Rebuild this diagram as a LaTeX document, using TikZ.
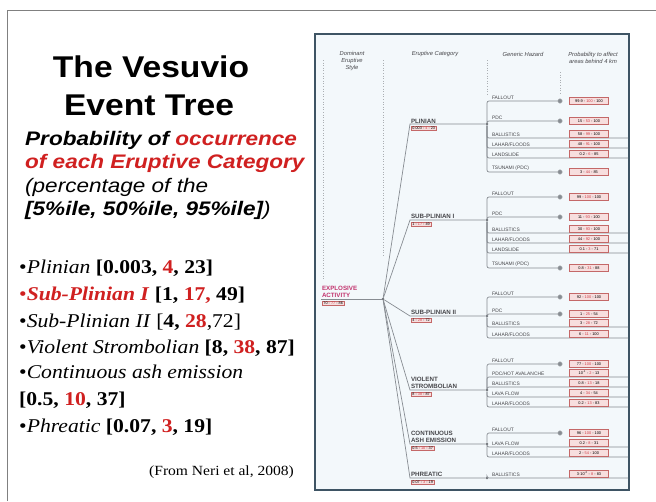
\documentclass[tikz,border=0pt]{standalone}
\usepackage{fontspec}
\setmainfont{Liberation Serif}
\newfontfamily\arialf{Liberation Sans}
\newfontfamily\arialw{Liberation Sans}[FakeStretch=1.12]
\newfontfamily\arialx{Liberation Sans}[FakeStretch=1.15]
\newfontfamily\timesw{Liberation Serif}[FakeStretch=1.11]
\usepackage{tikz}
\usetikzlibrary{positioning}
\definecolor{leftred}{RGB}{208,32,32}
\definecolor{midred}{RGB}{205,60,70}
\definecolor{rootpink}{RGB}{194,52,110}
\definecolor{panelbg}{RGB}{243,248,251}
\definecolor{panelrim}{RGB}{62,84,100}
\definecolor{treegray}{RGB}{135,140,146}
\definecolor{txtgray}{RGB}{70,70,74}
\definecolor{boxrim}{RGB}{196,104,104}
\definecolor{boxfill}{RGB}{247,222,222}
\newcommand{\fsz}[1]{\fontsize{#1}{1.15\dimexpr#1pt\relax}\selectfont}
\newcommand{\vals}[3]{#1 - \textcolor{midred}{#2} - #3}
% hazard ending in a dot
\newcommand{\hzdot}[7]{%
	\coordinate (#2) at (491,#4);
	\node[hazlbl] (#2t) at (#2) {#3};
	\node[endpt] (#2e) at (560,#4) {};
	\draw[branch, rounded corners=2pt] (#1) |- (#2) -- (#2e);
	\node[valbox] (#2v) at (589,#4) {\vals{#5}{#6}{#7}};
}
% hazard ending at the rim
\newcommand{\hzrule}[7]{%
	\coordinate (#2) at (491,#4);
	\node[hazlbl] (#2t) at (#2) {#3};
	\coordinate (#2e) at (628,#4);
	\draw[branch, rounded corners=2pt] (#1) |- (#2) -- (#2e);
	\node[valbox] (#2v) at (589,#4-4.3) {\vals{#5}{#6}{#7}};
}

\begin{document}
\begin{tikzpicture}[x=1pt,y=-1pt,
	ttl/.style={anchor=base,inner sep=0pt,font=\arialw\bfseries\fsz{30}},
	sub/.style={anchor=base west,inner sep=0pt,font=\arialx\fsz{19.6}},
	bul/.style={anchor=base west,inner sep=0pt,font=\timesw\fsz{19.5}},
	branch/.style={draw=treegray,line width=0.7pt},
	guide/.style={draw=treegray!70,dotted,line width=0.6pt},
	head/.style={font=\arialf\itshape\fsz{5.8},text=txtgray,align=center,inner sep=0pt},
	catlbl/.style={anchor=south west,inner sep=0.8pt,font=\arialf\bfseries\fsz{6.2},text=txtgray,align=left},
	catval/.style={anchor=north west,draw=boxrim,fill=boxfill,line width=0.5pt,inner xsep=1.2pt,inner ysep=1pt,font=\arialf\fsz{3.8}},
	hazlbl/.style={anchor=south west,inner sep=0.8pt,font=\arialf\fsz{4.9},text=txtgray},
	valbox/.style={draw=boxrim,fill=boxfill,line width=0.5pt,minimum width=39pt,minimum height=6.6pt,inner sep=0.6pt,font=\arialf\fsz{3.9}},
	endpt/.style={circle,fill=treegray,draw=treegray!60,inner sep=0pt,minimum size=4.6pt},
	knot/.style={circle,fill=treegray!80!black,inner sep=0pt,minimum size=2.6pt}]
\useasboundingbox (0,0) rectangle (656,501);
\fill[white] (0,0) rectangle (656,501);
\draw[gray,line width=0.9pt] (7,501) -- (7,10) -- (656,10);

% left side
\node[ttl] (t1) at (151,77) {The Vesuvio};
\node[ttl] (t2) at (149,115) {Event Tree};
\node[sub] (s1) at (25,145) {\bfseries\itshape Probability of \textcolor{leftred}{occurrence}};
\node[sub] (s2) at (25,168) {\bfseries\itshape\color{leftred} of each Eruptive Category};
\node[sub] (s3) at (25,192) {\itshape (percentage of the};
\node[sub] (s4) at (25,215) {\bfseries\itshape [5\%ile, 50\%ile, 95\%ile]\mdseries)};
\node[bul] (b1) at (19,273) {•\textit{Plinian} \textbf{[0.003, \textcolor{leftred}{4}, 23]}};
\node[bul] (b2) at (19,300) {\textcolor{leftred}{•\textbf{\textit{Sub-Plinian I}}} \textbf{[1, \textcolor{leftred}{17,} 49]}};
\node[bul] (b3) at (19,327) {•\textit{Sub-Plinian II} [\textbf{4, \textcolor{leftred}{28}},72]};
\node[bul] (b4) at (19,353) {•\textit{Violent Strombolian} \textbf{[8, \textcolor{leftred}{38}, 87]}};
\node[bul] (b5) at (19,378) {•\textit{Continuous ash emission}};
\node[bul] (b6) at (19,405) {\textbf{[0.5, \textcolor{leftred}{10}, 37]}};
\node[bul] (b7) at (19,432) {•\textit{Phreatic} \textbf{[0.07, \textcolor{leftred}{3}, 19]}};
\node[anchor=base east,inner sep=0pt,font=\timesw\fsz{14}] (src) at (294,475) {(From Neri et al, 2008)};

% panel
\draw[fill=panelbg,draw=panelrim,line width=1.2pt] (315,34) rectangle (629,490);
\node[head] (hA) at (352,61) {Dominant\\Eruptive\\Style};
\node[head] (hB) at (435,54) {Eruptive Category};
\node[head] (hC) at (523,54) {Generic Hazard};
\node[head] (hD) at (593,58) {Probability to affect\\areas behind 4 km};
\draw[guide] (323,60) -- (323,280);
\draw[guide] (383,60) -- (383,256);
\draw[guide] (487,60) -- (487,94);
\draw[guide] (560,72) -- (560,94);

% root
\coordinate (ea) at (321,299);
\node[catlbl,text=rootpink] (eat) at (ea) {EXPLOSIVE\\ACTIVITY};
\node[catval] (eav) at (322,300.5) {\vals{70}{77}{86}};
\node[knot] (rt) at (383,299) {};
\draw[branch] (ea) -- (rt);

% eruptive categories
\foreach \nm/\yy/\lbl/\lo/\md/\hi in {
	P/124/PLINIAN/0.003/4/23,
	SA/220/SUB-PLINIAN I/1/17/49,
	SB/316/SUB-PLINIAN II/4/28/72,
	VS/390/{VIOLENT\\STROMBOLIAN}/8/38/87,
	CA/444/{CONTINUOUS\\ASH EMISSION}/0.5/10/37,
	PH/478/PHREATIC/0.07/3/19}{
	\coordinate (k\nm) at (410,\yy);
	\node[catlbl] (c\nm) at (k\nm) {\lbl};
	\node[catval] (v\nm) at (411,\yy+1.5) {\vals{\lo}{\md}{\hi}};
	\node[knot] (j\nm) at (487,\yy) {};
	\draw[branch] (rt) -- (k\nm) -- (j\nm);
}

% generic hazards
\hzdot{jP}{hP1}{FALLOUT}{101}{99.9}{100}{100}
\hzdot{jP}{hP2}{PDC}{121}{15}{53}{100}
\hzrule{jP}{hP3}{BALLISTICS}{138}{58}{99}{100}
\hzrule{jP}{hP4}{LAHAR/FLOODS}{148}{48}{91}{100}
\hzrule{jP}{hP5}{LANDSLIDE}{158}{0.2}{6}{85}
\hzdot{jP}{hP6}{TSUNAMI (PDC)}{172}{3}{44}{85}

\hzdot{jSA}{hA1}{FALLOUT}{197}{99}{100}{100}
\hzdot{jSA}{hA2}{PDC}{217}{11}{93}{100}
\hzrule{jSA}{hA3}{BALLISTICS}{233}{30}{93}{100}
\hzrule{jSA}{hA4}{LAHAR/FLOODS}{243}{44}{92}{100}
\hzrule{jSA}{hA5}{LANDSLIDE}{253}{0.1}{3}{71}
\hzdot{jSA}{hA6}{TSUNAMI (PDC)}{268}{0.8}{31}{88}

\hzdot{jSB}{hB1}{FALLOUT}{297}{92}{100}{100}
\hzdot{jSB}{hB2}{PDC}{314}{1}{25}{54}
\hzrule{jSB}{hB3}{BALLISTICS}{327}{3}{28}{72}
\hzrule{jSB}{hB4}{LAHAR/FLOODS}{338}{6}{11}{100}

\hzdot{jVS}{hV1}{FALLOUT}{364}{77}{100}{100}
\hzrule{jVS}{hV2}{PDC/HOT AVALANCHE}{377}{10\textsuperscript{-1}}{2}{13}
\hzrule{jVS}{hV3}{BALLISTICS}{387}{0.8}{13}{18}
\hzrule{jVS}{hV4}{LAVA FLOW}{397}{4}{34}{54}
\hzrule{jVS}{hV5}{LAHAR/FLOODS}{407}{0.2}{13}{83}

\hzdot{jCA}{hC1}{FALLOUT}{433}{96}{100}{100}
\hzrule{jCA}{hC2}{LAVA FLOW}{447}{0.2}{8}{31}
\hzrule{jCA}{hC3}{LAHAR/FLOODS}{457}{2}{54}{100}

\hzrule{jPH}{hH1}{BALLISTICS}{478}{3·10\textsuperscript{-2}}{8}{83}
\end{tikzpicture}
\end{document}
